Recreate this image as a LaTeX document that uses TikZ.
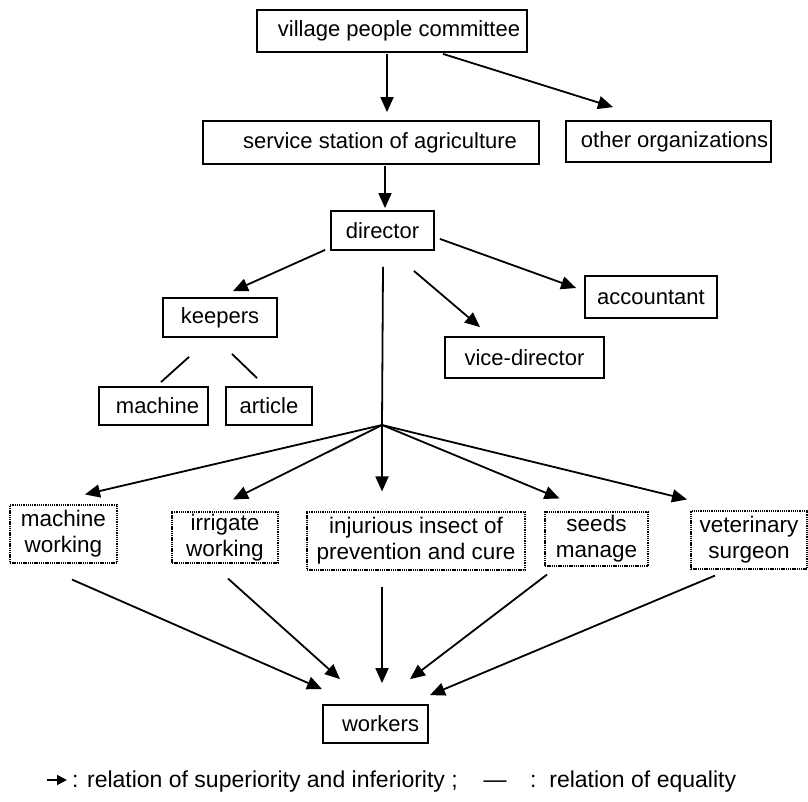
\documentclass[tikz,border=0pt]{standalone}
\usepackage{fontspec}
\setmainfont{Liberation Sans}
\usetikzlibrary{arrows.meta,calc}
\begin{document}
\begin{tikzpicture}[x=1pt,y=-1pt,
  box/.style={draw,line width=1.8pt,inner sep=0pt,font=\fontsize{22}{26}\selectfont},
  dbox/.style={draw,line width=1.1pt,dash pattern=on 1.3pt off 0.9pt,inner sep=0pt,align=center,font=\fontsize{22.5}{26}\selectfont},
  arr/.style={line width=1.8pt,-{Triangle[length=15pt,width=13pt]}},
  ln/.style={line width=1.8pt},
  lgd/.style={font=\fontsize{23}{26}\selectfont,inner sep=0pt}]
\useasboundingbox (0,0) rectangle (808,801);
% nodes
\node[box,minimum width=270pt,minimum height=42pt] (vpc) at (392,31) {\hspace{14pt}village people committee};
\node[box,minimum width=336pt,minimum height=43pt] (svc) at (371,142.5) {\hspace{18pt}service station of agriculture};
\node[box,minimum width=205pt,minimum height=41pt] (oth) at (668.5,141.5) {\hspace{12pt}other organizations};
\node[box,minimum width=103pt,minimum height=39pt] (dir) at (382.5,230.5) {director};
\node[box,minimum width=114pt,minimum height=39pt] (kee) at (220,317.5) {keepers};
\node[box,minimum width=109pt,minimum height=38pt] (mac) at (153.5,406) {\hspace{8pt}machine};
\node[box,minimum width=86pt,minimum height=38pt] (art) at (269,406) {article};
\node[box,minimum width=132pt,minimum height=42pt] (acc) at (651,297) {accountant};
\node[box,minimum width=159pt,minimum height=41pt] (vic) at (524.5,357.5) {vice-director};
\node[dbox,minimum width=107pt,minimum height=58pt] (mw) at (63.5,534) {machine\\working};
\node[dbox,minimum width=106pt,minimum height=51pt] (iw) at (225,537.5) {irrigate\\working};
\node[dbox,minimum width=218pt,minimum height=58pt] (ins) at (416,541) {injurious insect of\\prevention and cure};
\node[dbox,minimum width=103pt,minimum height=54pt] (sm) at (596.5,539) {seeds\\manage};
\node[dbox,minimum width=116pt,minimum height=58pt] (vs) at (749,540) {veterinary\\surgeon};
\node[box,minimum width=105pt,minimum height=38pt] (wk) at (375.5,724) {\hspace{10pt}workers};
\coordinate (j) at (382,425);
% connectors
\draw[arr] ($(vpc.south)+(-5,1)$) -- ($(svc.north)+(16,-8)$);
\draw[arr] ($(vpc.south)+(51,1)$) -- ($(oth.north)+(-55.5,-13)$);
\draw[arr] ($(svc.south)+(14,1)$) -- ($(dir.north)+(2.5,-2)$);
\draw[arr] ($(dir.south west)+(-5,-1)$) -- ($(kee.north)+(13,-6)$);
\draw[arr] ($(dir.south east)+(5,-12)$) -- ($(acc.west)+(-8,-9)$);
\draw[arr] ($(dir.south east)+(-21,20)$) -- ($(vic.north)+(-44.5,-9)$);
\draw[ln] ($(dir.south)+(0.5,16)$) -- (j);
\draw[ln] ($(kee.south)+(-31,19)$) -- ($(mac.north)+(7.5,-4)$);
\draw[ln] ($(kee.south)+(12,16)$) -- ($(art.north)+(-12,-8)$);
\draw[arr] (j) -- ($(mw.north)+(21.5,-10)$);
\draw[arr] (j) -- ($(iw.north)+(8,-12)$);
\draw[arr] (j) -- ($(ins.north)+(-34,-20)$);
\draw[arr] (j) -- ($(sm.north)+(-37,-13)$);
\draw[arr] (j) -- ($(vs.north)+(-62,-11)$);
\draw[arr] ($(mw.south)+(8.5,16)$) -- ($(wk.north)+(-53.5,-15)$);
\draw[arr] ($(iw.south)+(3,15)$) -- ($(wk.north)+(-35.5,-25)$);
\draw[arr] ($(ins.south)+(-34,16)$) -- ($(wk.north)+(6.5,-21)$);
\draw[arr] ($(sm.south)+(-49.5,8)$) -- ($(wk.north)+(34.5,-25)$);
\draw[arr] ($(vs.south)+(-34,6)$) -- ($(wk.north)+(54.5,-9)$);
% legend
\coordinate (la) at (47,780);
\coordinate (lb) at (67,780);
\draw[line width=1.8pt,-{Triangle[length=10pt,width=10pt]}] (la) -- (lb);
\node[lgd,anchor=base west] (l1) at (72,787) {: relation of superiority and inferiority ;};
\node[lgd,anchor=base] (l2) at (495,787) {---};
\node[lgd,anchor=base west] (l3) at (530,787) {:\ \ relation of equality};
\end{tikzpicture}
\end{document}
